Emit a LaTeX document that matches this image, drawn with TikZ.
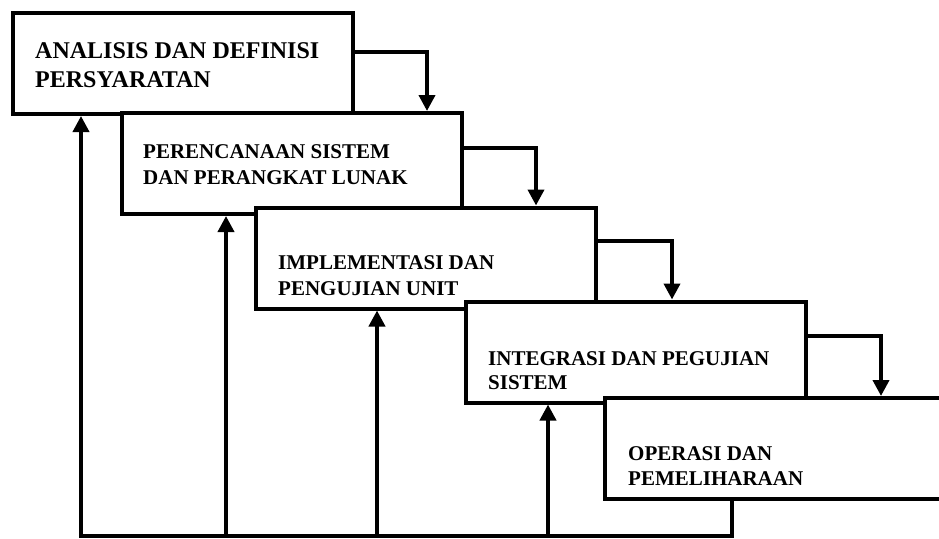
\documentclass[tikz,border=0pt]{standalone}
\usepackage{fontspec}
\setmainfont{Liberation Serif}
\usetikzlibrary{arrows.meta}
\begin{document}
\begin{tikzpicture}[x=1pt,y=-1pt,
  stage/.style={draw, fill=white, line width=4pt, line join=miter,
    minimum width=340pt, minimum height=101pt, inner sep=0pt},
  bigtxt/.style={anchor=base west, inner sep=0pt,
    font=\fontsize{24}{29}\selectfont\bfseries},
  txt/.style={anchor=base west, inner sep=0pt,
    font=\fontsize{21}{25}\selectfont\bfseries},
  flow/.style={line width=3.8pt, line join=miter,
    -{Triangle[length=16pt,width=16pt]}},
  wire/.style={line width=3.8pt, line join=miter}]
\useasboundingbox (0,0) rectangle (939,538);
\clip (0,0) rectangle (939,538);
\fill[white] (0,0) rectangle (939,538);

% stages of the waterfall, each one laid over the previous
\node[stage] (b1) at (182.5,63.5) {};
\node[stage] (b2) at (291.5,163.5) {};
\node[stage] (b3) at (426,258) {};
\node[stage] (b4) at (635.5,352) {};
\node[stage, minimum width=380pt] (b5) at (795,448.5) {};

% stage titles
\node[bigtxt] (t1a) at (35,58) {ANALISIS DAN DEFINISI};
\node[bigtxt] (t1b) at (35,87) {PERSYARATAN};
\node[txt] (t2a) at (143,158) {PERENCANAAN SISTEM};
\node[txt] (t2b) at (143,184) {DAN PERANGKAT LUNAK};
\node[txt] (t3a) at (278,269) {IMPLEMENTASI DAN};
\node[txt] (t3b) at (278,295) {PENGUJIAN UNIT};
\node[txt] (t4a) at (488,365) {INTEGRASI DAN PEGUJIAN};
\node[txt] (t4b) at (488,389) {SISTEM};
\node[txt] (t5a) at (628,460) {OPERASI DAN};
\node[txt] (t5b) at (628,485) {PEMELIHARAAN};

% forward steps
\coordinate (k1) at (427,52);
\coordinate (k2) at (536,148);
\coordinate (k3) at (672,241);
\coordinate (k4) at (881,336);
\draw[flow] (b1.east |- k1) -| (b2.north -| k1);
\draw[flow] (b2.east |- k2) -| (b3.north -| k2);
\draw[flow] (b3.east |- k3) -| (b4.north -| k3);
\draw[flow] (b4.east |- k4) -| (b5.north -| k4);

% feedback lines
\coordinate (r) at (732,536);
\coordinate (f1) at (81,536);
\coordinate (f2) at (226,536);
\coordinate (f3) at (377,536);
\coordinate (f4) at (548,536);
\draw[flow] (b5.south -| r) -- (r) -- (f1) -- (b1.south -| f1);
\draw[flow] (f2) -- (b2.south -| f2);
\draw[flow] (f3) -- (b3.south -| f3);
\draw[flow] (f4) -- (b4.south -| f4);
\end{tikzpicture}
\end{document}
